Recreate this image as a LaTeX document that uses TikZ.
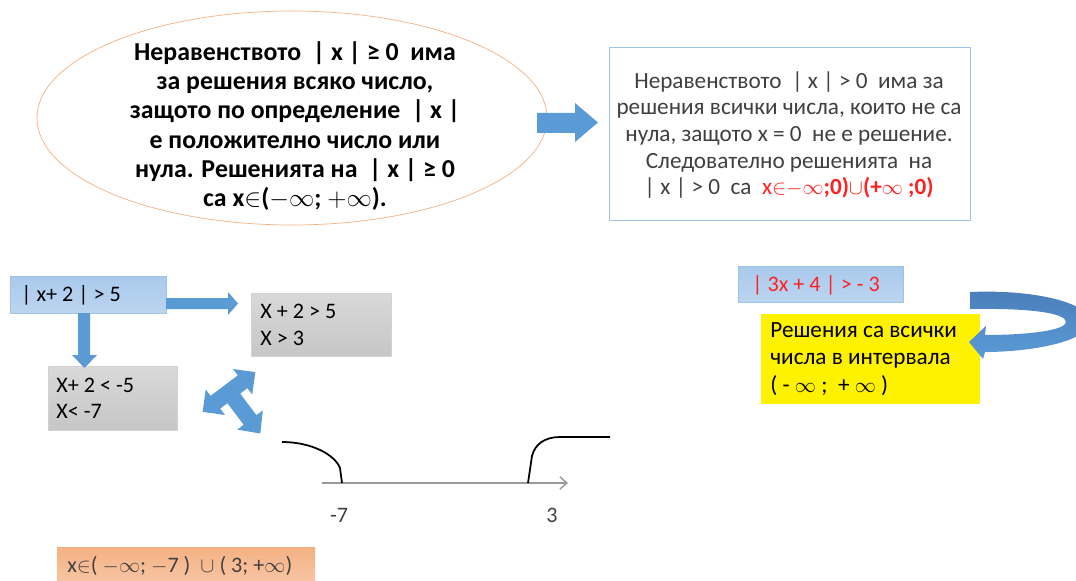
\documentclass[tikz,border=0pt]{standalone}
\usepackage{fontspec}
\setmainfont{Carlito}
\usetikzlibrary{arrows.meta}
\definecolor{arrowblue}{HTML}{5B9BD5}
\definecolor{darkblue}{HTML}{4A7EBB}
\definecolor{ovalline}{HTML}{F4B183}
\definecolor{frameblue}{HTML}{9DC3E6}
\definecolor{textgrey}{HTML}{404040}
\definecolor{redtext}{HTML}{FF2020}
\definecolor{lightblue}{HTML}{A9C9EC}
\definecolor{paleblue}{HTML}{BCD5F0}
\definecolor{greytop}{HTML}{D9D9D9}
\definecolor{greybot}{HTML}{C6C6C6}
\definecolor{salmon}{HTML}{F4B183}
\definecolor{palesalmon}{HTML}{F8C4A2}

\begin{document}
\begin{tikzpicture}[x=0.02cm, y=-0.02cm, font=\fontsize{12.6}{15}\selectfont]
	\useasboundingbox (0,0) rectangle (1076,581);
	\tikzset{
		bluebox/.style={draw=frameblue, top color=lightblue, bottom color=paleblue},
		greybox/.style={draw=gray!35, top color=greytop, bottom color=greybot},
		blockarrow/.style={fill=arrowblue, draw=none},
		boxtext/.style={anchor=west, align=left, inner sep=0pt}
	}
	
	% 椭圆
	\draw[ovalline, fill=white] (292,118) ellipse [x radius=255, y radius=107];
	\node[align=center, font=\bfseries\fontsize{14.7}{16.6}\selectfont, text=black] (oval) at (295,126) {
		Неравенството~ | x | ≥ 0~ има\\
		за решения всяко число,\\
		защото по определение~ | x |\\
		е положително число или\\
		нула. Решенията на~ | x | ≥ 0\\
		са x$\in$($-\infty$; $+\infty$).};
	
	% 右上方框
	\draw[frameblue, fill=white] (609,47) rectangle (970,220);
	\node[align=center, text=textgrey, font=\fontsize{13.2}{15.2}\selectfont] (note) at (789,135) {
		Неравенството~ | x | > 0~ има за\\
		решения всички числа, които не са\\
		нула, защото x = 0~ не е решение.\\
		Следователно решенията~ на\\
		| x | > 0~ са~ {\color{redtext}x$\in$$-\infty$\textbf{;0)}$\cup$\textbf{(+}$\infty$ \textbf{;0)}}};
	
	% 箭头 椭圆 -> 方框
	\fill[blockarrow] (537,113) -- (575,113) -- (575,103) -- (598,122.5) -- (575,142) -- (575,133) -- (537,133) -- cycle;
	
	% |x+2|>5 及两种情况
	\draw[bluebox] (10,276) rectangle (166,313);
	\node[boxtext] (start) at (21,295) {| x+ 2 | > 5};
	\draw[greybox] (251,293) rectangle (391,356);
	\node[boxtext] (caseA) at (260,325) {X + 2 > 5\\X > 3};
	\draw[greybox] (48,366) rectangle (177,430);
	\node[boxtext] (caseB) at (56,398) {X+ 2 < -5\\X< -7};
	\fill[blockarrow] (166,298) -- (228,298) -- (228,292) -- (238,303.5) -- (228,315) -- (228,309) -- (166,309) -- cycle;
	\fill[blockarrow] (78,313) -- (78,355) -- (72,355) -- (84.5,368) -- (97,355) -- (90,355) -- (90,313) -- cycle;
	
	% 三向箭头
	\begin{scope}[shift={(229,392)}, rotate=37]
		\fill[blockarrow] (17,-8) -- (17,-16) -- (33,0) -- (17,16) -- (17,8) -- (8,8) -- (8,35)
			-- (16,35) -- (0,52) -- (-16,35) -- (-8,35) -- (-8,8) -- (-17,8) -- (-17,16)
			-- (-33,0) -- (-17,-16) -- (-17,-8) -- cycle;
	\end{scope}
	
	% 数轴
	\draw[gray!80, line width=0.8pt, -{Straight Barb[length=4pt, width=7pt]}] (322,483) -- (568,483);
	\draw[line width=1pt] (282,442) .. controls (312,442) and (335,455) .. (340,468) -- (342,483);
	\draw[line width=1pt] (528,483) -- (532,456) .. controls (535,444) and (545,437) .. (560,437) -- (610,437);
	\node[text=textgrey] (minusseven) at (339,515) {-7};
	\node[text=textgrey] (three) at (552,515) {3};
	
	% 答案
	\fill[top color=salmon, bottom color=palesalmon] (57,547) rectangle (315,581);
	\node[boxtext, text=textgrey] (answer) at (67,566) {x$\in$( $-\infty$; $-$7 )~ $\cup$ ( 3; +$\infty$)};
	
	% |3x+4|>-3
	\draw[bluebox] (738,266) rectangle (903,302);
	\node[boxtext, text=redtext] (absbox) at (752,285) {| 3x + 4 | > - 3};
	\fill[yellow] (761,314) rectangle (980,404);
	\node[boxtext, font=\fontsize{13.2}{15.5}\selectfont] (allreal) at (770,359) {
		Решения са всички\\
		числа в интервала\\
		( - $\infty$ ;~ + $\infty$ )};
	
	% 弯箭头
	\begin{scope}
		\clip (940,280) rectangle (1076,370);
		\shade[top color=darkblue, bottom color=arrowblue] (970,292) .. controls (1040,289) and (1092,305) .. (1090,322)
			.. controls (1088,342) and (1030,352) .. (985,352) -- (983,359) -- (969,342) -- (986,326) -- (985,335)
			.. controls (1030,335) and (1066,330) .. (1066,322)
			.. controls (1066,313) and (1030,308) .. (970,309) -- cycle;
	\end{scope}
\end{tikzpicture}
\end{document}
